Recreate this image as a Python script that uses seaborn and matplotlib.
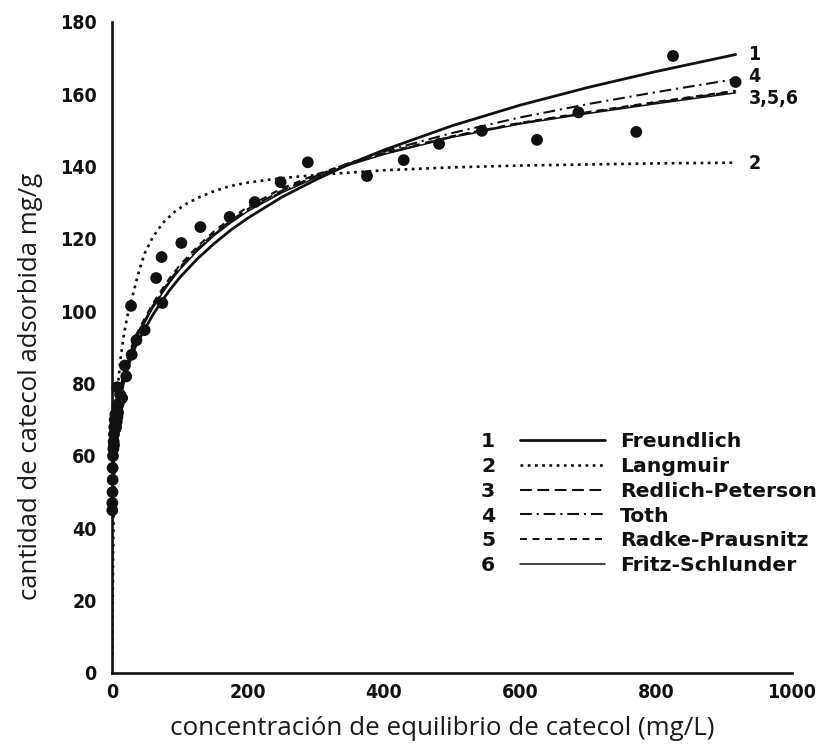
import matplotlib
matplotlib.use("Agg")
import matplotlib.pyplot as plt
from matplotlib.lines import Line2D
from matplotlib.font_manager import FontProperties
import pandas as pd
import seaborn as sns

# Experimental adsorption points (equilibrium concentration mg/L, uptake mg/g)
obs_c = [0.5, 0.5, 0.8, 1.0, 1.0, 1.5, 2.0, 2.5, 3.0, 3.5, 4.0, 5.0, 6.0, 7.0,
         3.0, 5.0, 9.0, 10.0, 12.0, 8.0, 8.0, 15.0, 8.0, 21.0, 19.0, 29.0, 36.0,
         48.0, 28.0, 74.0, 65.0, 73.0, 102.0, 130.0, 173.0, 210.0, 248.0, 288.0,
         375.0, 429.0, 481.0, 544.0, 625.0, 686.0, 771.0, 825.0, 917.0]
obs_q = [45.0, 47.0, 50.0, 53.4, 56.7, 60.0, 62.0, 64.0, 66.0, 68.0, 70.0, 71.5, 68.0, 69.5,
         63.0, 67.5, 72.0, 74.5, 77.0, 70.8, 73.5, 76.0, 79.0, 82.0, 85.0, 88.0, 92.0,
         94.8, 101.5, 102.3, 109.2, 115.0, 118.9, 123.3, 126.1, 130.2, 135.7, 141.2,
         137.4, 141.8, 146.3, 149.9, 147.4, 155.0, 149.6, 170.6, 163.4]

# Fitted isotherm curves
fit_c = [0.3, 1, 2, 3, 5, 8, 12, 18, 25, 35, 48, 60, 74, 85, 100, 125, 150, 175,
         200, 250, 300, 350, 400, 500, 600, 700, 800, 917]
freundlich_q = [44.0, 52.0, 57.0, 61.0, 66.0, 71.0, 76.0, 81.0, 85.5, 90.5, 95.0, 99.0,
                103.0, 105.9, 109.4, 114.4, 118.7, 122.5, 125.8, 131.6, 136.4, 140.8,
                144.6, 151.3, 157.0, 161.9, 166.3, 171.0]
redlich_q = [45.0, 53.5, 58.6, 62.6, 67.7, 72.8, 77.9, 83.0, 87.6, 92.7, 97.4, 101.5,
             105.6, 108.6, 112.2, 117.2, 121.5, 125.1, 128.3, 133.4, 137.4, 140.8,
             143.6, 148.3, 152.0, 154.9, 157.7, 160.8]
toth_q = [44.7, 53.2, 58.3, 62.3, 67.4, 72.5, 77.6, 82.7, 87.3, 92.4, 97.1, 101.2,
          105.3, 108.3, 111.9, 116.9, 121.2, 124.8, 128.0, 133.1, 137.5, 141.1,
          144.2, 149.3, 153.6, 157.3, 160.6, 164.2]
radke_q = [45.6, 54.1, 59.2, 63.2, 68.3, 73.4, 78.5, 83.6, 88.2, 93.3, 98.0, 102.1,
           106.2, 109.2, 112.8, 117.8, 122.1, 125.7, 128.9, 134.0, 137.8, 141.0,
           143.8, 148.4, 152.1, 155.1, 157.9, 161.0]
fritz_q = [44.4, 52.9, 58.0, 62.0, 67.1, 72.2, 77.3, 82.4, 87.0, 92.1, 96.8, 100.9,
           105.0, 108.0, 111.6, 116.6, 120.9, 124.5, 127.7, 132.8, 137.0, 140.5,
           143.4, 148.1, 151.8, 154.7, 157.4, 160.4]

langmuir_c = [0.5, 1, 1.5, 2.5, 4, 6, 9, 12, 17, 23, 30, 38, 48, 60, 75, 92, 110,
              129, 150, 173, 200, 227, 270, 330, 400, 500, 600, 700, 800, 917]
langmuir_q = [5.0, 15.0, 30.0, 45.0, 60.0, 72.0, 80.0, 86.0, 93.0, 99.0, 104.0, 110.0,
              116.0, 120.5, 124.5, 127.5, 129.8, 131.6, 133.2, 134.6, 135.6, 136.3,
              137.2, 138.1, 139.0, 139.8, 140.3, 140.6, 140.9, 141.1]

model_names = ["Freundlich", "Langmuir", "Redlich-Peterson", "Toth",
               "Radke-Prausnitz", "Fritz-Schlunder"]
model_numbers = ["1", "2", "3", "4", "5", "6"]
end_labels = ["1", "4", "3,5,6", "2"]
end_label_q = [171.0, 164.8, 158.8, 141.0]

x_ticks = [0, 200, 400, 600, 800, 1000]
y_ticks = [0, 20, 40, 60, 80, 100, 120, 140, 160, 180]

ink = "#111111"
sns.set_theme(style="white")
plt.rcParams["font.family"] = ["DejaVu Sans"]
plt.rcParams["lines.scale_dashes"] = False

tick_font = FontProperties(family="DejaVu Sans", weight="bold", stretch="condensed", size=14)
legend_font = FontProperties(family="DejaVu Sans", weight="bold", size=14.7)

fig = plt.figure(figsize=(8.27, 7.5), dpi=100)
ax = fig.add_axes([0.1354, 0.1027, 0.8223, 0.868])

styles = [
    dict(color=ink, lw=2.0, ls="-"),
    dict(color=ink, lw=1.9, ls=(0, (2.0, 3.2))),
    dict(color=ink, lw=1.5, ls=(0, (8.5, 4.0))),
    dict(color=ink, lw=1.5, ls=(0, (8.5, 3.5, 1.5, 3.5))),
    dict(color=ink, lw=1.5, ls=(0, (5.0, 4.0))),
    dict(color=ink, lw=1.1, ls="-"),
]
curves = [
    (fit_c, freundlich_q),
    (langmuir_c, langmuir_q),
    (fit_c, redlich_q),
    (fit_c, toth_q),
    (fit_c, radke_q),
    (fit_c, fritz_q),
]
for (cx, cy), st in zip(curves, styles):
    df = pd.DataFrame({"c": cx, "q": cy})
    sns.lineplot(data=df, x="c", y="q", ax=ax, sort=False, estimator=None,
                 color=st["color"], linewidth=st["lw"], linestyle=st["ls"])

obs = pd.DataFrame({"c": obs_c, "q": obs_q})
sns.scatterplot(data=obs, x="c", y="q", ax=ax, color=ink, s=72,
                edgecolor="none", linewidth=0, zorder=4, clip_on=False)

for lab, q in zip(end_labels, end_label_q):
    ax.text(936, q, lab, fontproperties=tick_font, color=ink, ha="left", va="center")

ax.set_xlim(0, 1000)
ax.set_ylim(0, 180)
ax.set_xticks(x_ticks)
ax.set_yticks(y_ticks)
ax.set_xticklabels([str(v) for v in x_ticks], fontproperties=tick_font, color=ink)
ax.set_yticklabels([str(v) for v in y_ticks], fontproperties=tick_font, color=ink)
ax.tick_params(axis="both", direction="in", length=7, width=1.6, colors=ink)
ax.tick_params(axis="y", pad=11)
ax.tick_params(axis="x", pad=7)
for side in ["top", "right"]:
    ax.spines[side].set_visible(False)
for side in ["left", "bottom"]:
    ax.spines[side].set_linewidth(1.9)
    ax.spines[side].set_color(ink)

ax.set_xlabel("concentración de equilibrio de catecol (mg/L)",
              family="Open Sans", fontsize=18.7, color="#1a1a1a", labelpad=10, x=0.486)
ax.set_ylabel("cantidad de catecol adsorbida mg/g",
              family="Open Sans", fontsize=18.5, color="#1a1a1a", labelpad=12, y=0.441)

blank = Line2D([], [], linestyle="none")
proxies = [Line2D([], [], color=st["color"], lw=st["lw"], ls=st["ls"]) for st in styles]
leg = ax.legend([blank] * 6 + proxies, model_numbers + model_names, ncol=2,
                frameon=False, loc="upper left", bbox_to_anchor=(0.396, 0.3695),
                borderaxespad=0, borderpad=0, handlelength=4.15, handletextpad=0.74,
                columnspacing=1.23, labelspacing=0.28, prop=legend_font)
for t in leg.get_texts():
    t.set_color(ink)

fig.savefig("out.png", dpi=100, facecolor="white")
